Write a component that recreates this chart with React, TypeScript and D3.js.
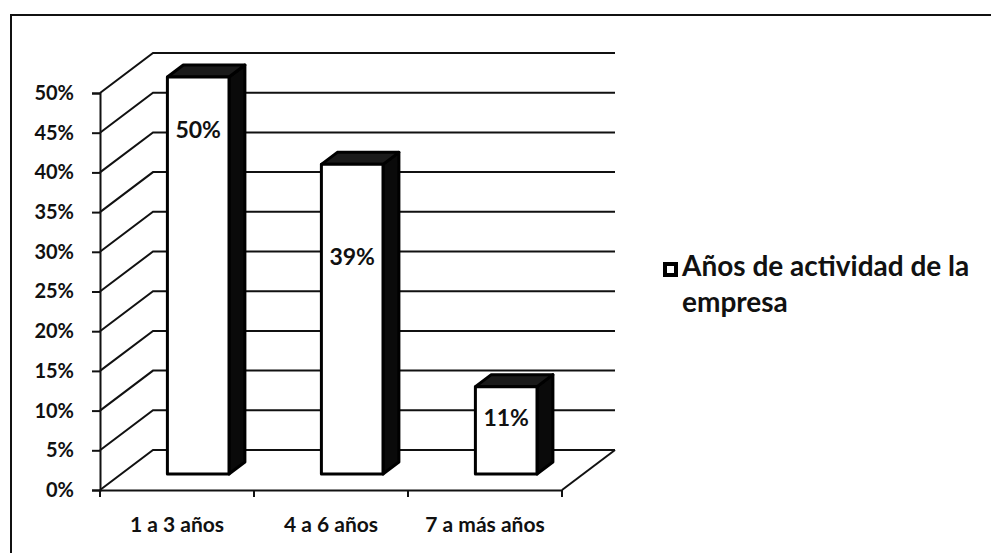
import React, { useEffect, useRef } from 'react'
import * as d3 from 'd3'

// Chart data
const categories = ['1 a 3 años', '4 a 6 años', '7 a más años']
const values = [0.5, 0.39, 0.11]
const valueLabels = ['50%', '39%', '11%']
const yTicks = [0, 0.05, 0.1, 0.15, 0.2, 0.25, 0.3, 0.35, 0.4, 0.45, 0.5]
const seriesLabel = ['Años de actividad de la', 'empresa']

const WIDTH = 991
const HEIGHT = 553
const FONT = 'Lato, "Open Sans", sans-serif'

// 3D look: depth of the floor / side wall
const DEPTH_X = 53
const DEPTH_Y = 40
const BAR_FRONT = 0.4 // where the bar front sits in the depth
const BAR_DEPTH = 0.3 // how deep the bar is
// where the value label sits, as a fraction of bar height from the top
const labelPos = [0.134, 0.3, 0.36]

const App: React.FC = () => {
    const svgRef = useRef<SVGSVGElement | null>(null)

    useEffect(() => {
        const svg = d3.select(svgRef.current)
        svg.selectAll('*').remove()

        const x = d3.scaleBand<string>().domain(categories).range([100, 562]).padding(0)
        const y = d3.scaleLinear().domain([0, 0.5]).range([490, 93])
        const bw = x.bandwidth()
        const barW = bw * 0.4

        svg.append('rect').attr('width', WIDTH).attr('height', HEIGHT).attr('fill', '#fff')

        // outer frame (only top and left are visible in the scan)
        svg.append('path')
            .attr('d', `M11,${HEIGHT}V15H${WIDTH}`)
            .attr('fill', 'none')
            .attr('stroke', '#111')
            .attr('stroke-width', 2)

        const grid = svg.append('g').attr('stroke', '#111').attr('stroke-width', 2).attr('fill', 'none')
        const x0 = x.range()[0]
        const x1 = x.range()[1]

        // side wall diagonals and back wall lines
        yTicks.forEach((t) => {
            const yy = y(t)
            grid.append('path').attr(
                'd',
                `M${x0},${yy}L${x0 + DEPTH_X},${yy - DEPTH_Y}H${x1 + DEPTH_X}`
            )
        })

        // floor
        grid.append('path').attr('d', `M${x1},${y(0)}L${x1 + DEPTH_X},${y(0) - DEPTH_Y}`)

        // bars
        const bars = svg.append('g')
        const fdx = BAR_FRONT * DEPTH_X
        const fdy = BAR_FRONT * DEPTH_Y
        const ddx = BAR_DEPTH * DEPTH_X
        const ddy = BAR_DEPTH * DEPTH_Y
        categories.forEach((c, i) => {
            const fx = x(c)! + (bw - barW) / 2 + fdx
            const top = y(values[i]) - fdy
            const bottom = y(0) - fdy
            const g = bars.append('g').attr('stroke', '#000').attr('stroke-width', 3).attr('stroke-linejoin', 'round')
            g.append('path')
                .attr('d', `M${fx + barW},${top}l${ddx},${-ddy}V${bottom - ddy}L${fx + barW},${bottom}Z`)
                .attr('fill', '#0a0a0a')
            g.append('path')
                .attr('d', `M${fx},${top}l${ddx},${-ddy}h${barW}L${fx + barW},${top}Z`)
                .attr('fill', '#1a1a1a')
            g.append('rect')
                .attr('x', fx)
                .attr('y', top)
                .attr('width', barW)
                .attr('height', bottom - top)
                .attr('fill', '#fff')
            bars.append('text')
                .attr('x', fx + barW / 2)
                .attr('y', top + (bottom - top) * labelPos[i])
                .attr('dy', '0.35em')
                .attr('text-anchor', 'middle')
                .attr('font-family', FONT)
                .attr('font-weight', 'bold')
                .attr('font-size', 23)
                .attr('fill', '#111')
                .text(valueLabels[i])
        })

        // y axis
        const yAxis = svg
            .append('g')
            .attr('transform', `translate(${x0},0)`)
            .call(
                d3
                    .axisLeft(y)
                    .tickValues(yTicks)
                    .tickSize(8)
                    .tickPadding(18)
                    .tickFormat((d) => d3.format('.0%')(d as number))
            )
        yAxis.select('.domain').attr('stroke', '#111').attr('stroke-width', 2)
        yAxis.selectAll('.tick line').attr('stroke', '#111').attr('stroke-width', 2)
        yAxis.selectAll('.tick text')
            .attr('font-family', FONT)
            .attr('font-weight', 'bold')
            .attr('font-size', 20)
            .attr('fill', '#111')

        // x axis: labels at band centres, ticks at band edges
        const xAxis = svg
            .append('g')
            .attr('transform', `translate(0,${y(0)})`)
            .call(d3.axisBottom(x).tickSize(0).tickPadding(27).tickSizeOuter(0))
        xAxis.select('.domain').attr('stroke', '#111').attr('stroke-width', 2)
        xAxis.selectAll('.tick text')
            .attr('font-family', FONT)
            .attr('font-weight', 'bold')
            .attr('font-size', 21)
            .attr('fill', '#111')
        const edges = [...categories.map((c) => x(c)!), x1]
        xAxis.selectAll('line.edge')
            .data(edges)
            .join('line')
            .attr('class', 'edge')
            .attr('x1', (d) => d)
            .attr('x2', (d) => d)
            .attr('y1', 0)
            .attr('y2', 7)
            .attr('stroke', '#111')
            .attr('stroke-width', 2)

        // legend
        const legend = svg.append('g').attr('transform', 'translate(663,262)')
        legend.append('rect')
            .attr('x', 2)
            .attr('y', 2)
            .attr('width', 11)
            .attr('height', 11)
            .attr('fill', '#fff')
            .attr('stroke', '#000')
            .attr('stroke-width', 4)
        legend.append('text')
            .attr('font-family', FONT)
            .attr('font-weight', 'bold')
            .attr('font-size', 28)
            .attr('fill', '#111')
            .selectAll('tspan')
            .data(seriesLabel)
            .join('tspan')
            .attr('x', 19)
            .attr('y', (_, i) => 14 + i * 36)
            .text((d) => d)
    }, [])

    return (
        <svg
            ref={svgRef}
            width={WIDTH}
            height={HEIGHT}
            style={{ position: 'absolute', left: 0, top: 0, background: '#fff' }}
        />
    )
}

export default App
